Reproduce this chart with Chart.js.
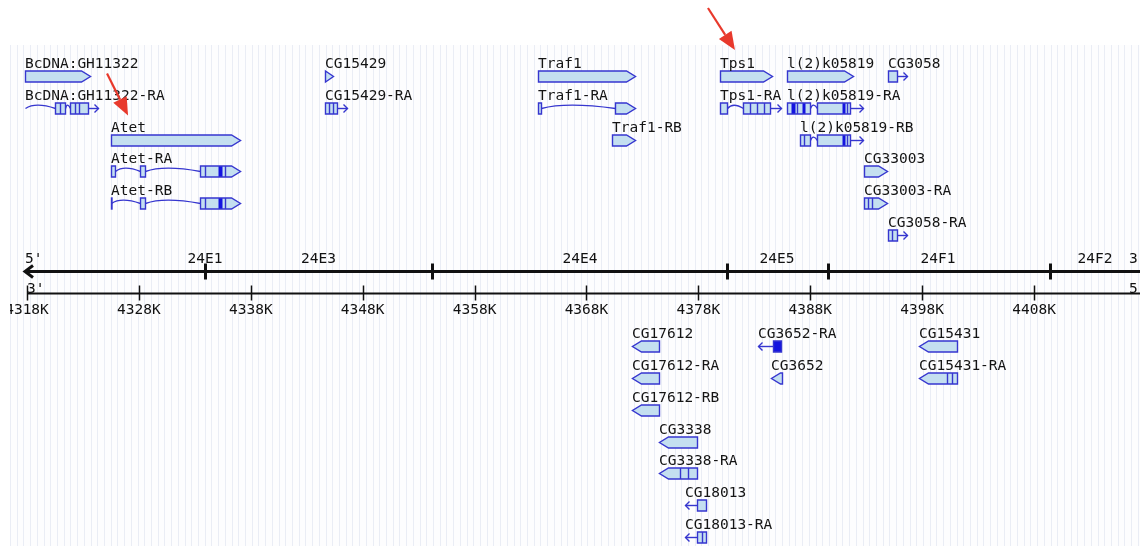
<!DOCTYPE html>
<html>
<head>
<meta charset="utf-8">
<title>Gene map 24E-24F</title>
<script src="https://cdn.jsdelivr.net/npm/chart.js@4.4.1/dist/chart.umd.min.js"></script>
<style>
  html, body { margin: 0; padding: 0; background: #ffffff; }
  #wrap { width: 1140px; height: 546px; position: relative; }
</style>
</head>
<body>
<div id="wrap"><canvas id="geneMap"></canvas></div>
<script>
// Coordinate ruler (kb) and its labels
const coordTicks = [4318, 4328, 4338, 4348, 4358, 4368, 4378, 4388, 4398, 4408];
const coordLabels = ['4318K', '4328K', '4338K', '4348K', '4358K', '4368K', '4378K', '4388K', '4398K', '4408K'];

// Cytological bands: boundaries and label positions (kb)
const bandTicks = [4333.91, 4354.19, 4380.56, 4389.58, 4409.42];
const bandNames = ['24E1', '24E3', '24E4', '24E5', '24F1', '24F2'];
const bandLabelAt = [4333.91, 4344.05, 4367.42, 4385.03, 4399.41, 4413.45];

// Forward strand features (lane 0 = first row under the top)
const topFeatures = [
    { name: 'BcDNA:GH11322', lane: 0, strand: 1, exons: [[4317.82, 4323.63]], pointed: true },
    { name: 'BcDNA:GH11322-RA', lane: 1, strand: 1, from: 4317.82, exons: [[4320.50, 4321.39], [4321.84, 4323.45]], divs: [4320.95, 4322.29, 4322.65], tail: [4323.45, 4324.35] },
    { name: 'Atet', lane: 2, strand: 1, exons: [[4325.51, 4337.04]], pointed: true },
    { name: 'Atet-RA', lane: 3, strand: 1, exons: [[4325.51, 4325.87], [4328.10, 4328.55], [4333.46, 4337.04]], divs: [4333.91, 4335.70], dark: [[4335.07, 4335.43]], pointed: true },
    { name: 'Atet-RB', lane: 4, strand: 1, exons: [[4325.51, 4325.53], [4328.10, 4328.55], [4333.46, 4337.04]], divs: [4333.91, 4335.70], dark: [[4335.07, 4335.43]], pointed: true },
    { name: 'CG15429', lane: 0, strand: 1, exons: [[4344.63, 4345.35]], pointed: true },
    { name: 'CG15429-RA', lane: 1, strand: 1, exons: [[4344.63, 4345.70]], divs: [4344.99, 4345.35], tail: [4345.70, 4346.60] },
    { name: 'Traf1', lane: 0, strand: 1, exons: [[4363.67, 4372.34]], pointed: true },
    { name: 'Traf1-RA', lane: 1, strand: 1, exons: [[4363.67, 4363.94], [4370.55, 4372.34]], pointed: true },
    { name: 'Traf1-RB', lane: 2, strand: 1, exons: [[4370.28, 4372.34]], pointed: true },
    { name: 'Tps1', lane: 0, strand: 1, exons: [[4379.93, 4384.58]], pointed: true },
    { name: 'Tps1-RA', lane: 1, strand: 1, exons: [[4379.93, 4380.56], [4381.99, 4384.40]], divs: [4382.61, 4383.24, 4383.87], tail: [4384.40, 4385.39] },
    { name: 'l(2)k05819', lane: 0, strand: 1, exons: [[4385.92, 4391.82]], pointed: true },
    { name: 'l(2)k05819-RA', lane: 1, strand: 1, exons: [[4385.92, 4387.98], [4388.60, 4391.55]], divs: [4386.80, 4391.30], dark: [[4386.30, 4386.60], [4387.30, 4387.55], [4390.84, 4391.10]], tail: [4391.55, 4392.71] },
    { name: 'l(2)k05819-RB', lane: 2, strand: 1, exons: [[4387.08, 4387.98], [4388.60, 4391.55]], divs: [4387.40, 4391.30], dark: [[4390.84, 4391.10]], tail: [4391.55, 4392.71] },
    { name: 'CG3058', lane: 0, strand: 1, exons: [[4394.95, 4395.75]], tail: [4395.75, 4396.65] },
    { name: 'CG33003', lane: 3, strand: 1, exons: [[4392.80, 4394.86]], pointed: true },
    { name: 'CG33003-RA', lane: 4, strand: 1, exons: [[4392.80, 4394.86]], divs: [4393.16, 4393.52], pointed: true },
    { name: 'CG3058-RA', lane: 5, strand: 1, exons: [[4394.95, 4395.75]], divs: [4395.30], tail: [4395.75, 4396.65] }
];

// Reverse strand features (below the ruler)
const bottomFeatures = [
    { name: 'CG17612', lane: 8.5, strand: -1, exons: [[4372.07, 4374.48]], pointed: true },
    { name: 'CG17612-RA', lane: 9.5, strand: -1, exons: [[4372.07, 4374.48]], pointed: true },
    { name: 'CG17612-RB', lane: 10.5, strand: -1, exons: [[4372.07, 4374.48]], pointed: true },
    { name: 'CG3338', lane: 11.5, strand: -1, exons: [[4374.48, 4377.88]], pointed: true },
    { name: 'CG3338-RA', lane: 12.5, strand: -1, exons: [[4374.48, 4377.88]], divs: [4376.36, 4377.07], pointed: true },
    { name: 'CG18013', lane: 13.5, strand: -1, exons: [[4377.88, 4378.68]], tail: [4376.80, 4377.88] },
    { name: 'CG18013-RA', lane: 14.5, strand: -1, exons: [[4377.88, 4378.68]], divs: [4378.32], tail: [4376.80, 4377.88] },
    { name: 'CG3652-RA', lane: 8.5, strand: -1, exons: [[4384.67, 4385.39]], dark: [[4384.67, 4385.39]], tail: [4383.33, 4384.67] },
    { name: 'CG3652', lane: 9.5, strand: -1, exons: [[4384.49, 4385.48]], pointed: true },
    { name: 'CG15431', lane: 8.5, strand: -1, exons: [[4397.72, 4401.11]], pointed: true },
    { name: 'CG15431-RA', lane: 9.5, strand: -1, exons: [[4397.72, 4401.11]], divs: [4400.22, 4400.67], pointed: true }
];

// Red call-out arrows: which label they point at
const calloutTargets = ['Atet', 'Tps1'];

// Layout constants (not data)
const rulerLane = 6.13;       // thick cytology line
const FILL = '#c4dff0';
const EDGE = '#3636cf';
const DARK = '#1414e0';
const TEXT = '#141414';
const FONT = '14.5px "DejaVu Sans Mono", "Liberation Mono", monospace';
const arrowOffsets = { 'Atet': { tail: [-4, -57], tip: [17, -15] }, 'Tps1': { tail: [-12, -59], tip: [15, -17] } };

function featureStart(f) {
    let s = f.exons[0][0];
    if (f.tail) s = Math.min(s, f.tail[0]);
    if (f.from !== undefined) s = Math.min(s, f.from);
    return s;
}

function exonPath(ctx, x0, x1, top, h, tipSide) {
    const yc = top + h / 2;
    const t = Math.min(9, x1 - x0);
    ctx.beginPath();
    if (tipSide > 0) {
        ctx.moveTo(x0, top); ctx.lineTo(x1 - t, top); ctx.lineTo(x1, yc);
        ctx.lineTo(x1 - t, top + h); ctx.lineTo(x0, top + h); ctx.closePath();
    } else if (tipSide < 0) {
        ctx.moveTo(x1, top); ctx.lineTo(x0 + t, top); ctx.lineTo(x0, yc);
        ctx.lineTo(x0 + t, top + h); ctx.lineTo(x1, top + h); ctx.closePath();
    } else {
        ctx.rect(x0, top, Math.max(x1 - x0, 0.5), h);
    }
}

// gentle wavy intron line
function arch(ctx, a, b, yc) {
    ctx.beginPath();
    ctx.moveTo(a, yc);
    ctx.bezierCurveTo(a + (b - a) * 0.25, yc - 5, a + (b - a) * 0.6, yc - 4, b, yc);
    ctx.stroke();
}

function drawFeature(ctx, xs, ys, f) {
    const px = v => Math.round(xs.getPixelForValue(v)) + 0.5;
    const yc = Math.round(ys.getPixelForValue(f.lane)) + 0.5;
    const h = 11;
    const top = yc - h / 2;
    ctx.strokeStyle = EDGE;
    ctx.lineWidth = 1.4;

    // thin UTR tail with arrow head
    if (f.tail) {
        const a = px(f.tail[0]), b = px(f.tail[1]);
        ctx.beginPath(); ctx.moveTo(a, yc); ctx.lineTo(b, yc); ctx.stroke();
        const tip = f.strand > 0 ? b : a;
        const d = f.strand > 0 ? -4 : 4;
        ctx.beginPath();
        ctx.moveTo(tip + d, yc - 4); ctx.lineTo(tip, yc); ctx.lineTo(tip + d, yc + 4);
        ctx.stroke();
    }
    // introns
    if (f.from !== undefined) arch(ctx, px(f.from), px(f.exons[0][0]), yc);
    for (let i = 0; i < f.exons.length - 1; i++) {
        arch(ctx, px(f.exons[i][1]), px(f.exons[i + 1][0]), yc);
    }
    // exons
    f.exons.forEach((e, i) => {
        let tipSide = 0;
        if (f.pointed && f.strand > 0 && i === f.exons.length - 1) tipSide = 1;
        if (f.pointed && f.strand < 0 && i === 0) tipSide = -1;
        const x0 = px(e[0]), x1 = px(e[1]);
        exonPath(ctx, x0, x1, top, h, tipSide);
        ctx.fillStyle = FILL;
        ctx.fill();
        ctx.save();
        ctx.clip();
        (f.dark || []).forEach(d => {
            ctx.fillStyle = DARK;
            ctx.fillRect(px(d[0]), top, px(d[1]) - px(d[0]), h);
        });
        ctx.restore();
        exonPath(ctx, x0, x1, top, h, tipSide);
        ctx.stroke();
    });
    (f.divs || []).forEach(v => {
        const x = px(v);
        ctx.beginPath(); ctx.moveTo(x, top); ctx.lineTo(x, top + h); ctx.stroke();
    });
    // label
    ctx.fillStyle = TEXT;
    ctx.font = FONT;
    ctx.textAlign = 'left';
    ctx.textBaseline = 'alphabetic';
    ctx.fillText(f.name, Math.round(xs.getPixelForValue(featureStart(f))), yc - 9);
}

const mapPlugin = {
    id: 'geneMap',
    beforeDraw(chart) {
        const { ctx, chartArea: a, scales: { x } } = chart;
        ctx.save();
        ctx.fillStyle = '#ffffff';
        ctx.fillRect(0, 0, chart.width, chart.height);
        ctx.fillStyle = '#fdfdfe';
        ctx.fillRect(a.left, a.top, a.right - a.left, a.bottom - a.top);
        // faint vertical stripes of the browser panel
        ctx.strokeStyle = 'rgba(205, 212, 232, 0.4)';
        ctx.lineWidth = 1;
        for (let v = x.min; v <= x.max; v += 0.6) {
            const p = Math.round(x.getPixelForValue(v)) + 0.5;
            ctx.beginPath(); ctx.moveTo(p, a.top); ctx.lineTo(p, a.bottom); ctx.stroke();
        }
        ctx.restore();
    },
    afterDatasetsDraw(chart) {
        const { ctx, chartArea: a, scales: { x, y } } = chart;
        ctx.save();
        ctx.beginPath();
        ctx.rect(a.left, a.top, a.right - a.left, a.bottom - a.top);
        ctx.clip();

        // ruler
        const yb = Math.round(y.getPixelForValue(rulerLane)) + 0.5;
        const yk = yb + 22;
        const start = x.getPixelForValue(coordTicks[0]);
        const tipX = Math.round(start) - 2;
        ctx.strokeStyle = '#111111';
        ctx.lineWidth = 3;
        ctx.beginPath(); ctx.moveTo(tipX, yb); ctx.lineTo(a.right, yb); ctx.stroke();
        ctx.beginPath();
        ctx.moveTo(tipX + 8, yb - 6); ctx.lineTo(tipX, yb); ctx.lineTo(tipX + 8, yb + 6);
        ctx.stroke();
        bandTicks.forEach(v => {
            const p = Math.round(x.getPixelForValue(v)) + 0.5;
            ctx.beginPath(); ctx.moveTo(p, yb - 8); ctx.lineTo(p, yb + 8); ctx.stroke();
        });
        ctx.lineWidth = 2;
        ctx.beginPath(); ctx.moveTo(Math.round(start), yk); ctx.lineTo(a.right, yk); ctx.stroke();
        ctx.lineWidth = 1.5;
        coordTicks.forEach(v => {
            const p = Math.round(x.getPixelForValue(v)) + 0.5;
            ctx.beginPath(); ctx.moveTo(p, yk - 8); ctx.lineTo(p, yk + 7); ctx.stroke();
        });
        ctx.fillStyle = '#111111';
        ctx.font = FONT;
        ctx.textBaseline = 'alphabetic';
        ctx.textAlign = 'center';
        bandNames.forEach((n, i) => ctx.fillText(n, x.getPixelForValue(bandLabelAt[i]), yb - 9));
        coordLabels.forEach((n, i) => ctx.fillText(n, x.getPixelForValue(coordTicks[i]), yk + 20));
        ctx.textAlign = 'left';
        ctx.fillText("5'", tipX, yb - 9);
        ctx.fillText("3'", tipX + 2, yk - 1);
        ctx.fillText("3'", a.right - 11, yb - 9);
        ctx.fillText("5'", a.right - 11, yk - 1);

        // genes
        topFeatures.forEach(f => drawFeature(ctx, x, y, f));
        bottomFeatures.forEach(f => drawFeature(ctx, x, y, f));
        ctx.restore();

        // red call-out arrows
        ctx.save();
        calloutTargets.forEach(name => {
            const f = topFeatures.find(g => g.name === name);
            const lx = x.getPixelForValue(featureStart(f));
            const ly = y.getPixelForValue(f.lane) - 9;
            const o = arrowOffsets[name];
            const tx = lx + o.tail[0], ty = ly + o.tail[1];
            const hx = lx + o.tip[0], hy = ly + o.tip[1];
            const ang = Math.atan2(hy - ty, hx - tx);
            const hl = 18, hw = 7.5;
            const bx = hx - Math.cos(ang) * hl, by = hy - Math.sin(ang) * hl;
            ctx.strokeStyle = '#e8392c';
            ctx.fillStyle = '#e8392c';
            ctx.lineWidth = 2.2;
            ctx.beginPath(); ctx.moveTo(tx, ty); ctx.lineTo(bx, by); ctx.stroke();
            ctx.beginPath();
            ctx.moveTo(hx, hy);
            ctx.lineTo(bx + Math.sin(ang) * hw, by - Math.cos(ang) * hw);
            ctx.lineTo(bx - Math.sin(ang) * hw, by + Math.cos(ang) * hw);
            ctx.closePath();
            ctx.fill();
        });
        ctx.restore();
    }
};

const chart = new Chart(document.getElementById('geneMap'), {
    type: 'scatter',
    data: { datasets: [{ data: [], pointRadius: 0 }] },
    options: {
        responsive: true,
        maintainAspectRatio: false,
        animation: false,
        events: [],
        layout: { padding: { top: 45, left: 10, right: 0, bottom: 0 } },
        plugins: { legend: { display: false }, tooltip: { enabled: false } },
        scales: {
            x: { type: 'linear', min: 4316.48, max: 4417.47, display: false },
            y: { type: 'linear', min: -0.975, max: 14.78, reverse: true, display: false }
        }
    },
    plugins: [mapPlugin]
});
</script>
</body>
</html>
